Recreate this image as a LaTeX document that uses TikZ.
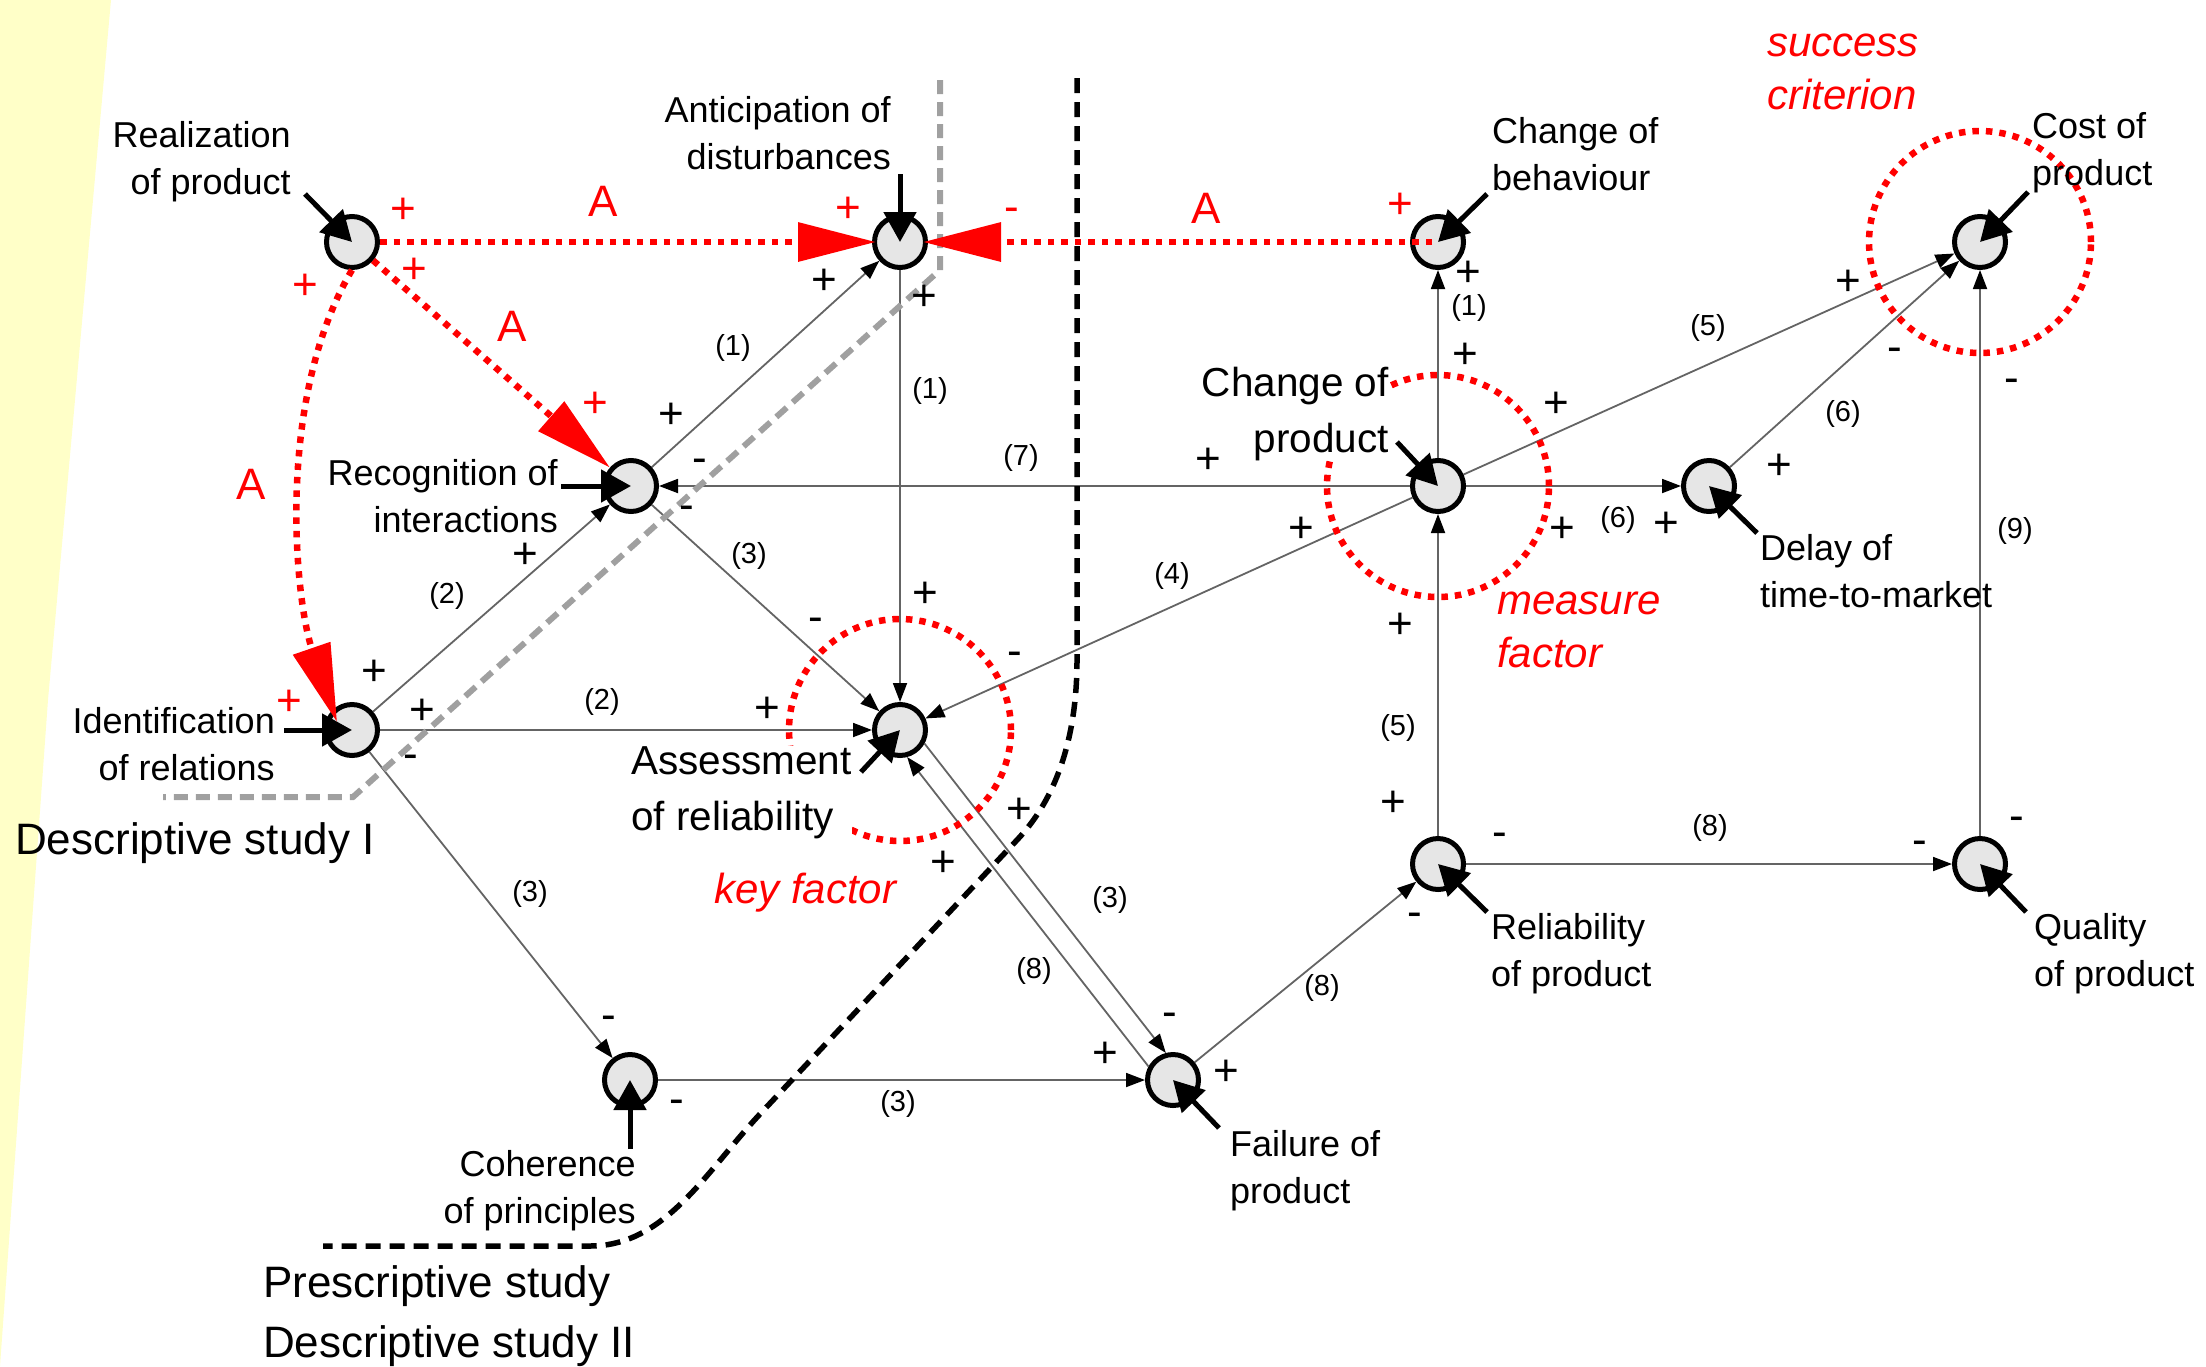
\documentclass[tikz,border=0pt]{standalone}
\usepackage{fontspec}
\setmainfont{Liberation Sans}
\usetikzlibrary{arrows.meta,calc}
\pgfdeclarelayer{bg}
\pgfsetlayers{bg,main}
\definecolor{ybg}{RGB}{255,255,200}
\definecolor{nodefill}{RGB}{230,230,230}
\definecolor{lgray}{RGB}{160,160,160}
\definecolor{cgray}{RGB}{100,100,100}
\begin{document}
\begin{tikzpicture}[x=1pt,y=-1pt,
  nd/.style={circle,draw=black,line width=5pt,fill=nodefill,minimum size=51pt,inner sep=0pt},
  conn/.style={draw=cgray,line width=1.8pt,-{Triangle[length=19pt,width=14pt,color=black]}},
  ext/.style={draw=black,line width=5pt,-{Triangle[length=30pt,width=32pt]}},
  redA/.style={draw=red,line width=6.5pt,dash pattern=on 6.5pt off 7pt,-{Triangle[length=78pt,width=38pt]}},
  redcirc/.style={draw=red,line width=6.5pt,dash pattern=on 6.5pt off 7pt},
  txt/.style={font=\fontsize{36}{47}\selectfont,inner sep=0pt},
  bigtxt/.style={font=\fontsize{40.5}{56}\selectfont,inner sep=0pt,fill=white},
  study/.style={font=\fontsize{44}{60}\selectfont,inner sep=0pt,anchor=base west},
  redit/.style={font=\fontsize{42}{53}\selectfont\itshape,text=red,inner sep=0pt,anchor=base west,align=left},
  lab/.style={font=\fontsize{29}{29}\selectfont,inner sep=0pt},
  pl/.style={font=\fontsize{44}{44}\selectfont,inner sep=0pt,anchor=base,yshift=-15.4pt},
  mi/.style={font=\fontsize{44}{44}\selectfont,inner sep=0pt,anchor=base,yshift=-11.4pt},
  Alab/.style={font=\fontsize{44}{44}\selectfont,text=red,inner sep=0pt}
]
\useasboundingbox (0,0) rectangle (2206,1366);
\fill[ybg] (0,0) -- (111,0) -- (48,700) -- (0,1366) -- cycle;

% nodes
\node[nd] (R) at (352,242) {};
\node[nd] (Ant) at (900,242) {};
\node[nd] (CB) at (1438,242) {};
\node[nd] (CP) at (1980,242) {};
\node[nd] (Rec) at (631,486) {};
\node[nd] (CPr) at (1438,486) {};
\node[nd] (D) at (1709,486) {};
\node[nd] (Id) at (352,730) {};
\node[nd] (As) at (900,730) {};
\node[nd] (Rel) at (1438,864) {};
\node[nd] (Q) at (1980,864) {};
\node[nd] (Coh) at (630,1080) {};
\node[nd] (F) at (1173,1080) {};

\begin{pgfonlayer}{bg}
% thin connectors
\draw[conn] (Rec) -- (Ant);
\draw[conn] (Id) -- (Rec);
\draw[conn] (Ant) -- (As);
\draw[conn] (CPr) -- (Rec);
\draw[conn] (Rec) -- (As);
\draw[conn] (Id) -- (As);
\draw[conn] (Id) -- (Coh);
\draw[conn] (Coh) -- (F);
\draw[conn] (CPr) -- (As);
\draw[conn,shorten <=25.75pt,shorten >=25.75pt] ($(As)!11pt!90:(F)$) -- ($(F)!11pt!-90:(As)$);
\draw[conn,shorten <=25.75pt,shorten >=25.75pt] ($(F)!11pt!90:(As)$) -- ($(As)!11pt!-90:(F)$);
\draw[conn] (F) -- (Rel);
\draw[conn] (Rel) -- (CPr);
\draw[conn] (Rel) -- (Q);
\draw[conn] (Q) -- (CP);
\draw[conn] (CPr) -- (CB);
\draw[conn] (CPr) -- (CP);
\draw[conn] (CPr) -- (D);
\draw[conn] (D) -- (CP);
% dividers
\draw[lgray,line width=6pt,dash pattern=on 14pt off 8pt] (940,80) -- (940,270) -- (353,797) -- (163,797);
\draw[black,line width=5.5pt,dash pattern=on 15pt off 9pt] (1077,78) -- (1077,660) .. controls (1077,740) and (1055,800) .. (1017,840) -- (760,1114) .. controls (705,1173) and (665,1246) .. (590,1246) -- (323,1246);
% red circles
\draw[redcirc] (As) circle[radius=111pt];
\draw[redcirc] (CPr) circle[radius=111pt];
\draw[redcirc] (CP) circle[radius=111pt];
\end{pgfonlayer}

% node labels (anchor = baseline of last line)
\node[txt,anchor=base east,align=right] (tR) at (291,194) {Realization\\of product};
\node[txt,anchor=base east,align=right] (tAnt) at (891,169) {Anticipation of\\disturbances};
\node[txt,anchor=base west,align=left] (tCB) at (1492,190) {Change of\\behaviour};
\node[txt,anchor=base west,align=left] (tCP) at (2032,185) {Cost of\\product};
\node[txt,anchor=base east,align=right] (tRec) at (558,532) {Recognition of\\interactions};
\node[bigtxt,anchor=base east,align=right] (tCPr) at (1389,452) {Change of\\product};
\node[txt,anchor=base west,align=left] (tD) at (1760,607) {Delay of\\time-to-market};
\node[txt,anchor=base east,align=right] (tId) at (275,780) {Identification\\of relations};
\node[bigtxt,anchor=base west,align=left] (tAs) at (631,830) {Assessment\\of reliability};
\node[txt,anchor=base west,align=left] (tRel) at (1491,986) {Reliability\\of product};
\node[txt,anchor=base west,align=left] (tQ) at (2034,986) {Quality\\of product};
\node[txt,anchor=base east,align=right] (tCoh) at (636,1223) {Coherence\\of principles};
\node[txt,anchor=base west,align=left] (tF) at (1230,1203) {Failure of\\product};

% study labels
\node[study] (ds1) at (15,854) {Descriptive study I};
\node[study] (ps) at (263,1297) {Prescriptive study};
\node[study] (ds2) at (263,1357) {Descriptive study II};

% red italic labels
\node[redit] (kf) at (714,903) {key factor};
\node[redit] (mf) at (1497,667) {measure\\factor};
\node[redit] (sc) at (1767,109) {success\\criterion};

% external input arrows
\coordinate (eR) at (305,194);
\coordinate (eAnt) at (900,174);
\coordinate (eCB) at (1487,194);
\coordinate (eCP) at (2028,192);
\coordinate (eRec) at (561,486);
\coordinate (eCPr) at (1397,442);
\coordinate (eD) at (1757,533);
\coordinate (eId) at (284,730);
\coordinate (eAs) at (861,772);
\coordinate (eRel) at (1487,912);
\coordinate (eQ) at (2026,912);
\coordinate (eCoh) at (630,1149);
\coordinate (eF) at (1219,1128);
\draw[ext] (eR) -- (R.center);
\draw[ext] (eAnt) -- (Ant.center);
\draw[ext] (eCB) -- (CB.center);
\draw[ext] (eCP) -- (CP.center);
\draw[ext] (eRec) -- (Rec.center);
\draw[ext] (eCPr) -- (CPr.center);
\draw[ext] (eD) -- (D.center);
\draw[ext] (eId) -- (Id.center);
\draw[ext] (eAs) -- (As.center);
\draw[ext] (eRel) -- (Rel.center);
\draw[ext] (eQ) -- (Q.center);
\draw[ext] (eCoh) -- (Coh.center);
\draw[ext] (eF) -- (F.center);

% red A connectors
\draw[redA] (R) -- ([xshift=4pt]Ant.west);
\draw[redA] ([xshift=-6pt]CB.center) -- ([xshift=-5pt]Ant.east);
\draw[redA] (R) -- (Rec);
\draw[redA] (R.south) .. controls (275,400) and (295,600) .. ([xshift=-15pt,yshift=8pt]Id.center);
\node[Alab] (A1) at (603,201) {A};
\node[Alab] (A2) at (1206,208) {A};
\node[Alab] (A3) at (512,326) {A};
\node[Alab] (A4) at (251,484) {A};

% connector number labels
\node[lab] (n1) at (733,348) {(1)};
\node[lab] (n2) at (447,596) {(2)};
\node[lab] (n3) at (930,391) {(1)};
\node[lab] (n4) at (1021,458) {(7)};
\node[lab] (n5) at (749,556) {(3)};
\node[lab] (n6) at (602,702) {(2)};
\node[lab] (n7) at (530,894) {(3)};
\node[lab] (n8) at (898,1104) {(3)};
\node[lab] (n9) at (1172,576) {(4)};
\node[lab] (n10) at (1110,900) {(3)};
\node[lab] (n11) at (1034,971) {(8)};
\node[lab] (n12) at (1322,988) {(8)};
\node[lab] (n13) at (1398,728) {(5)};
\node[lab] (n14) at (1710,828) {(8)};
\node[lab] (n15) at (2015,531) {(9)};
\node[lab] (n16) at (1469,308) {(1)};
\node[lab] (n17) at (1708,328) {(5)};
\node[lab] (n18) at (1618,520) {(6)};
\node[lab] (n19) at (1843,414) {(6)};

% black plus signs
\node[pl] (p1) at (824,279) {+};
\node[pl] (p2) at (924,295) {+};
\node[pl] (p3) at (671,413) {+};
\node[pl] (p4) at (525,553) {+};
\node[pl] (p5) at (374,670) {+};
\node[pl] (p6) at (422,709) {+};
\node[pl] (p7) at (925,592) {+};
\node[pl] (p8) at (767,707) {+};
\node[pl] (p9) at (1019,808) {+};
\node[pl] (p10) at (943,861) {+};
\node[pl] (p11) at (1105,1052) {+};
\node[pl] (p12) at (1226,1070) {+};
\node[pl] (p13) at (1393,801) {+};
\node[pl] (p14) at (1400,623) {+};
\node[pl] (p15) at (1208,458) {+};
\node[pl] (p16) at (1301,527) {+};
\node[pl] (p17) at (1465,353) {+};
\node[pl] (p18) at (1468,271) {+};
\node[pl] (p19) at (1556,402) {+};
\node[pl] (p20) at (1562,527) {+};
\node[pl] (p21) at (1666,522) {+};
\node[pl] (p22) at (1779,464) {+};
\node[pl] (p23) at (1848,280) {+};
% black minus signs
\node[mi] (m1) at (700,461) {-};
\node[mi] (m2) at (687,508) {-};
\node[mi] (m3) at (411,757) {-};
\node[mi] (m4) at (816,620) {-};
\node[mi] (m5) at (1015,654) {-};
\node[mi] (m6) at (609,1018) {-};
\node[mi] (m7) at (677,1102) {-};
\node[mi] (m8) at (1170,1015) {-};
\node[mi] (m9) at (1415,915) {-};
\node[mi] (m10) at (1500,835) {-};
\node[mi] (m11) at (1920,843) {-};
\node[mi] (m12) at (2017,819) {-};
\node[mi] (m13) at (2012,381) {-};
\node[mi] (m14) at (1895,350) {-};
% red signs
\node[pl,text=red] (r1) at (403,208) {+};
\node[pl,text=red] (r2) at (848,207) {+};
\node[pl,text=red] (r3) at (414,268) {+};
\node[pl,text=red] (r4) at (595,402) {+};
\node[pl,text=red] (r5) at (305,284) {+};
\node[pl,text=red] (r6) at (289,700) {+};
\node[pl,text=red] (r7) at (1400,203) {+};
\node[mi,text=red] (r8) at (1012,210) {-};
\end{tikzpicture}
\end{document}
